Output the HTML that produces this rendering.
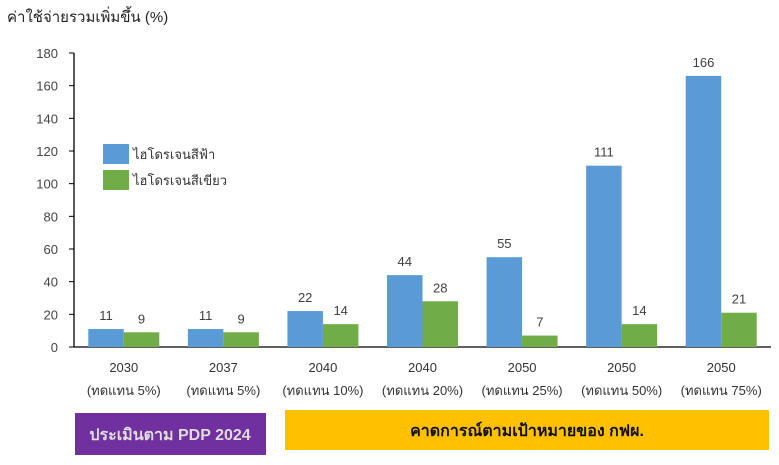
<!DOCTYPE html>
<html><head><meta charset="utf-8"><style>
body{margin:0;background:#fff;width:779px;height:460px;overflow:hidden;font-family:"Liberation Sans","Noto Sans CJK SC",sans-serif}
svg text{font-family:"Liberation Sans","Noto Sans CJK SC",sans-serif}
</style></head><body>
<svg width="779" height="460">
<text x="7" y="22" font-size="15" fill="#222">ค่าใช้จ่ายรวมเพิ่มขึ้น (%)</text>
<g id="yaxis"></g>
<g id="bars"></g>
<g id="xlabels"></g>
<g>
<rect x="103" y="144" width="26" height="20" fill="#5b9bd5"/>
<text x="133" y="159" font-size="13" fill="#333">ไฮโดรเจนสีฟ้า</text>
<rect x="103" y="170" width="26" height="20" fill="#70ad47"/>
<text x="133" y="185" font-size="13" fill="#333">ไฮโดรเจนสีเขียว</text>
</g>
<rect x="75" y="413" width="191" height="42" fill="#7030a0"/>
<text x="170" y="440" font-size="16" font-weight="bold" fill="#ddd" text-anchor="middle">ประเมินตาม PDP 2024</text>
<rect x="285" y="410" width="484" height="40" fill="#ffc000"/>
<text x="527" y="436" font-size="16" font-weight="bold" fill="#111" text-anchor="middle">คาดการณ์ตามเป้าหมายของ กฟผ.</text>
</svg>
<script>
const categories=["2030","2037","2040","2040","2050","2050","2050"];
const subLabels=["(ทดแทน 5%)","(ทดแทน 5%)","(ทดแทน 10%)","(ทดแทน 20%)","(ทดแทน 25%)","(ทดแทน 50%)","(ทดแทน 75%)"];
const blueValues=[11,11,22,44,55,111,166];
const greenValues=[9,9,14,28,7,14,21];
const yTicks=[0,20,40,60,80,100,120,140,160,180];
const NS="http://www.w3.org/2000/svg";
const x0=74,x1=771,y0=347,yTop=53,yMax=180;
const band=(x1-x0)/categories.length,bw=35.5;
const y=v=>y0-v/yMax*(y0-yTop);
function mk(tag,attrs,parent,text){const e=document.createElementNS(NS,tag);for(const k in attrs)e.setAttribute(k,attrs[k]);if(text!==undefined)e.textContent=text;parent.appendChild(e);return e;}
const ya=document.getElementById('yaxis');
yTicks.forEach(t=>{
 const l=mk('line',{x1:x0-5,x2:x0,y1:y(t),y2:y(t),stroke:'#000'},ya);
 
 
 const tx=mk('text',{x:x0-16,y:y(t)+5,'font-size':13,fill:'#444','text-anchor':'end'},ya,t);
 
 
});
const ax=mk('line',{x1:x0,x2:x0,y1:yTop,y2:y0,stroke:'#000','stroke-width':1.3},ya);


const bx=mk('line',{x1:x0,x2:x1,y1:y0,y2:y0,stroke:'#000','stroke-width':1.3},ya);


const bg=document.getElementById('bars'),xl=document.getElementById('xlabels');
categories.forEach((c,i)=>{
 const cx=x0+band*(i+0.5);
 [[blueValues[i],'#5b9bd5',cx-bw,'blue'],[greenValues[i],'#70ad47',cx,'green']].forEach(([v,col,bx0,nm])=>{
  const r=mk('rect',{x:bx0,y:y(v),width:bw,height:y0-y(v),fill:col},bg);
  
  
  const t=mk('text',{x:bx0+bw/2,y:y(v)-9,'font-size':13,fill:'#404040','text-anchor':'middle'},bg,v);
  
  
 });
 const t1=mk('text',{x:cx,y:372,'font-size':13,fill:'#333','text-anchor':'middle'},xl,c);
 
 
 const t2=mk('text',{x:cx,y:395,'font-size':13,fill:'#333','text-anchor':'middle'},xl,subLabels[i]);
 
 
});
</script>
</body></html>
